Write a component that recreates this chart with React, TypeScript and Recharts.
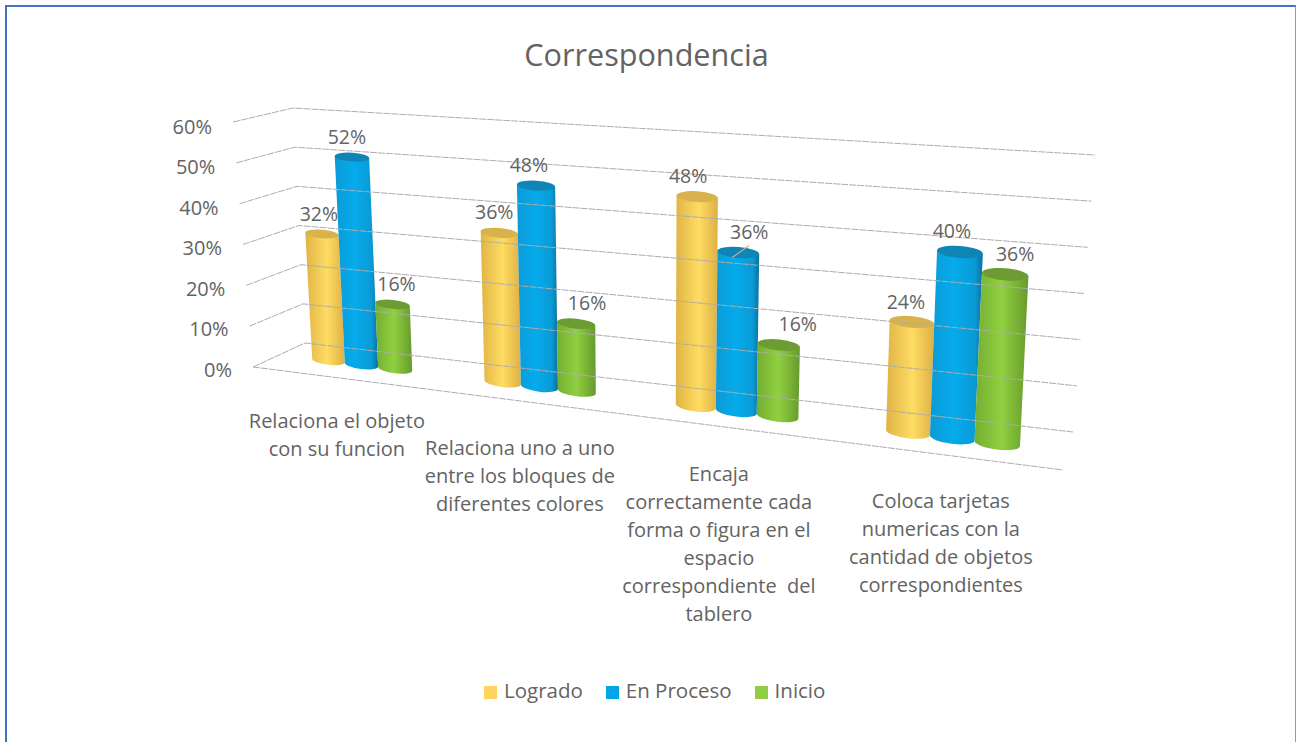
import React from "react";
import { BarChart, Bar, XAxis, YAxis, ReferenceLine, Legend, LabelList } from "recharts";

const categoryLines = [
  ["Relaciona el objeto", "con su funcion"],
  ["Relaciona uno a uno", "entre los bloques de", "diferentes colores"],
  ["Encaja", "correctamente cada", "forma o figura en el", "espacio", "correspondiente  del", "tablero"],
  ["Coloca tarjetas", "numericas con la", "cantidad de objetos", "correspondientes"],
];
const categories = categoryLines.map((l) => l.join(" "));
const logrado = [32, 36, 48, 24];
const enProceso = [52, 48, 36, 40];
const inicio = [16, 16, 16, 36];
const yTicks = [0, 10, 20, 30, 40, 50, 60];
const rows = categories.map((name, i) => ({ name, logrado: logrado[i], enProceso: enProceso[i], inicio: inicio[i] }));

const FONT = "'Open Sans', sans-serif";
const TEXT = "#636363";
const W = 1296, H = 742;
const PL = 280, PR = 1068, PT = 100, PB = 400;
const PW = PR - PL, PH = PB - PT;

// perspective mapping of the flat plot on to the picture
const baseX = (u: number) => 280 + 636 * u + 152 * u * u;
const proj = (u: number, v: number) => {
  const x0 = baseX(u);
  const y0 = 360.5 + 0.124 * (x0 - 328);
  const h = 238 + 0.0668 * (x0 - 340);
  const tilt = -11.4 + 0.038 * (x0 - 350);
  return { x: x0 + v * tilt, y: y0 - v * h };
};

const looks = {
  logrado: { grad: "gY", top: "#D8B24C" },
  enProceso: { grad: "gB", top: "#0F85B5" },
  inicio: { grad: "gG", top: "#6C9C33" },
};

const Cylinder = (look: { grad: string; top: string }) => (p: any) => {
  const u0 = (p.x - PL) / PW;
  const u1 = (p.x + p.width - PL) / PW;
  const v = (PB - p.y) / PH;
  const bl = proj(u0, 0), br = proj(u1, 0), tl = proj(u0, v), tr = proj(u1, v);
  const rxT = Math.hypot(tr.x - tl.x, tr.y - tl.y) / 2;
  const rxB = Math.hypot(br.x - bl.x, br.y - bl.y) / 2;
  const ry = rxT * 0.26;
  const rot = (Math.atan2(tr.y - tl.y, tr.x - tl.x) * 180) / Math.PI;
  const rotB = (Math.atan2(br.y - bl.y, br.x - bl.x) * 180) / Math.PI;
  return (
    <g>
      <path
        d={`M${tl.x} ${tl.y} L${bl.x} ${bl.y} A${rxB} ${ry} ${rotB} 0 0 ${br.x} ${br.y} L${tr.x} ${tr.y} Z`}
        fill={`url(#${look.grad})`}
      />
      <ellipse
        cx={(tl.x + tr.x) / 2}
        cy={(tl.y + tr.y) / 2}
        rx={rxT}
        ry={ry}
        transform={`rotate(${rot} ${(tl.x + tr.x) / 2} ${(tl.y + tr.y) / 2})`}
        fill={look.top}
      />
    </g>
  );
};

// label nudges per series, per category
const nudges: Record<string, number[]> = {
  logrado: [-3, -5, -9, -6],
  enProceso: [-5, -7, 11, -8],
  inicio: [4, 11, 19, 10],
};

const PctLabel = (key: string) => (p: any) => {
  const uc = (p.x + p.width / 2 - PL) / PW;
  const v = (PB - p.y) / PH;
  const top = proj(uc, v);
  const i = p.index as number;
  const lx = top.x + nudges[key][i];
  const ly = top.y - 21;
  return (
    <g>
      {key === "enProceso" && i === 2 && (
        <line x1={top.x - 6} y1={top.y + 5} x2={top.x + 11} y2={top.y - 7} stroke="#C9A98A" strokeWidth={1.2} />
      )}
      <text x={lx} y={ly} textAnchor="middle" dominantBaseline="central" fontFamily={FONT} fontSize={19.5} fill={TEXT}>
        {`${p.value}%`}
      </text>
    </g>
  );
};

const Grid = (p: any) => {
  const t = (PB - p.y1) / PH;
  const s = { x: 253 - 20 * t, y: 367 - 245 * t };
  const c = { x: 305 - 12 * t, y: 343 - 235 * t };
  const e = { x: 1073 + 22 * t, y: 432 - 277 * t };
  return (
    <g fill="none" stroke="#ADADAD" strokeWidth={1} strokeDasharray="7 1">
      <path d={`M${s.x} ${s.y} L${c.x} ${c.y} L${e.x} ${e.y}`} />
      {t < 0.001 && <path d="M253 367 L1063 470" />}
    </g>
  );
};

const YTick = (p: any) => {
  const t = (PB - p.y) / PH;
  return (
    <text x={232 - 20 * t} y={369 - 243 * t} textAnchor="end" dominantBaseline="central" fontFamily={FONT} fontSize={20} fill={TEXT}>
      {`${p.payload.value}%`}
    </text>
  );
};

const tickShiftX = [-25, -20, -18, -12];
const tickShiftY = [0, 3, 2, 0];

const XTick = (p: any) => {
  const x0 = baseX((p.x - PL) / PW);
  const i = p.index as number;
  const cx = x0 + tickShiftX[i];
  const y0 = 421 + (x0 - 362) * 0.1345 + tickShiftY[i];
  return (
    <g>
      {categoryLines[i].map((line, k) => (
        <text key={k} x={cx} y={y0 + k * 28} textAnchor="middle" dominantBaseline="central" fontFamily={FONT} fontSize={20} fill={TEXT} style={{ whiteSpace: "pre" }}>
          {line}
        </text>
      ))}
    </g>
  );
};

const LegendBox = (p: any) => (
  <div style={{ height: 0, overflow: "visible" }}>
    <div style={{ display: "flex", alignItems: "center", fontFamily: FONT, fontSize: 20.5, color: TEXT, whiteSpace: "nowrap" }}>
      {(p.payload || []).map((it: any, i: number) => (
        <div key={i} style={{ display: "flex", alignItems: "center", marginRight: 23 }}>
          <span style={{ display: "inline-block", width: 13, height: 13, background: it.color, marginRight: 7, marginTop: 5 }} />
          <span>{it.value}</span>
        </div>
      ))}
    </div>
  </div>
);

export default function App() {
  return (
    <div style={{ position: "absolute", left: 0, top: 0, width: W, height: H, overflow: "hidden", background: "#fff" }}>
      <div style={{ position: "absolute", left: 5, top: 5, width: 1288, height: 800, borderTop: "2px solid #4472C4", borderLeft: "2px solid #4472C4", borderRight: "1px solid #7F9BD4" }} />
      <div style={{ position: "absolute", left: 0, width: 1293, top: 32, textAlign: "center", fontFamily: FONT, fontSize: 30.6, lineHeight: "44px", color: TEXT }}>
        Correspondencia
      </div>
      <div style={{ position: "absolute", left: 0, top: 0 }}>
        <BarChart
          width={W}
          height={H}
          data={rows}
          margin={{ left: PL - 60, right: W - PR, top: PT, bottom: H - PB - 30 }}
          barCategoryGap="20%"
          barGap={0}
        >
          <defs>
            <linearGradient id="gY" x1="0" x2="1" y1="0" y2="0">
              <stop offset="0" stopColor="#E0B445" />
              <stop offset="0.55" stopColor="#FFDC63" />
              <stop offset="1" stopColor="#DDB044" />
            </linearGradient>
            <linearGradient id="gB" x1="0" x2="1" y1="0" y2="0">
              <stop offset="0" stopColor="#0C9AD6" />
              <stop offset="0.45" stopColor="#05ABEC" />
              <stop offset="0.85" stopColor="#0A9AD6" />
              <stop offset="1" stopColor="#0B6F9E" />
            </linearGradient>
            <linearGradient id="gG" x1="0" x2="1" y1="0" y2="0">
              <stop offset="0" stopColor="#74AE32" />
              <stop offset="0.5" stopColor="#90D040" />
              <stop offset="1" stopColor="#669A2C" />
            </linearGradient>
          </defs>
          <XAxis dataKey="name" axisLine={false} tickLine={false} interval={0} height={30} tick={<XTick />} />
          <YAxis width={60} domain={[0, 60]} ticks={yTicks} axisLine={false} tickLine={false} tick={<YTick />} />
          {yTicks.map((t) => (
            <ReferenceLine key={t} y={t} shape={<Grid />} />
          ))}
          <Bar dataKey="logrado" name="Logrado" fill="#FFD45E" isAnimationActive={false} shape={Cylinder(looks.logrado)}>
            <LabelList dataKey="logrado" content={PctLabel("logrado")} />
          </Bar>
          <Bar dataKey="enProceso" name="En Proceso" fill="#00A6E6" isAnimationActive={false} shape={Cylinder(looks.enProceso)}>
            <LabelList dataKey="enProceso" content={PctLabel("enProceso")} />
          </Bar>
          <Bar dataKey="inicio" name="Inicio" fill="#8FCE45" isAnimationActive={false} shape={Cylinder(looks.inicio)}>
            <LabelList dataKey="inicio" content={PctLabel("inicio")} />
          </Bar>
          <Legend itemSorter={null} content={<LegendBox />} wrapperStyle={{ position: "absolute", left: 484, top: 676, width: 400, height: 0, bottom: "auto" }} />
        </BarChart>
      </div>
    </div>
  );
}
